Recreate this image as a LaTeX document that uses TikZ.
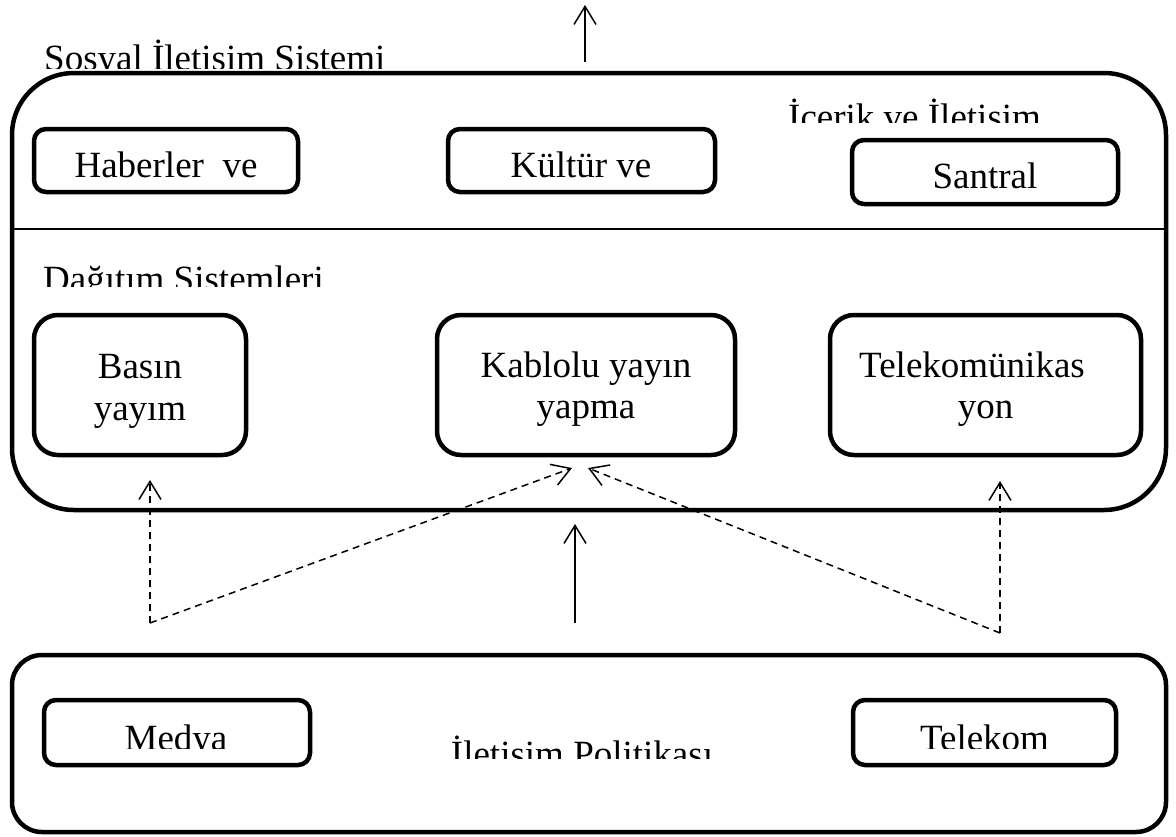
\documentclass[tikz,border=0pt]{standalone}
\usepackage{fontspec}
\setmainfont{Liberation Serif}
\usetikzlibrary{arrows.meta}
\begin{document}
\begin{tikzpicture}[x=1pt,y=-1pt,
  box/.style={draw, line width=4.5pt, rounded corners=12pt, inner sep=0pt},
  tallbox/.style={draw, line width=4.5pt, rounded corners=24pt, inner sep=0pt},
  txt/.style={font=\fontsize{37}{42}\selectfont, inner sep=0pt, anchor=base},
  arr/.style={line width=1.5pt, -{Straight Barb[length=18pt,width=22pt]}},
  darr/.style={arr, dash pattern=on 7pt off 5pt}]
\useasboundingbox (0,0) rectangle (1176,836);

% outer frames
\node[draw, line width=4.5pt, rounded corners=62pt, inner sep=0pt,
      minimum width=1154pt, minimum height=437pt] (sys) at (589,291.5) {};
\node[draw, line width=4.5pt, rounded corners=30pt, inner sep=0pt,
      minimum width=1154pt, minimum height=177pt] (pol) at (589,743.5) {};
\coordinate (sepL) at (12,229);
\coordinate (sepR) at (1166,229);
\draw[line width=1.5pt] (sepL) -- (sepR);

% clipped titles
\begin{scope}
  \clip (0,0) rectangle (700,68);
  \node[txt, anchor=base west] (sost) at (44,70) {Sosyal İletişim Sistemi};
\end{scope}
\begin{scope}
  \clip (700,90) rectangle (1120,122);
  \node[txt, anchor=base west] (icet) at (788,129) {İçerik ve İletişim};
\end{scope}
\begin{scope}
  \clip (0,240) rectangle (600,286);
  \node[txt, anchor=base west] (dagt) at (43,291) {Dağıtım Sistemleri};
\end{scope}
\begin{scope}
  \clip (400,720) rectangle (800,758);
  \node[txt] (polt) at (582,766) {İletişim Politikası};
\end{scope}

% top row boxes
\node[box, minimum width=264pt, minimum height=63pt] (hab) at (166,160.5) {};
\node[txt] (habt) at (166,177) {Haberler\ \ ve};
\node[box, minimum width=267pt, minimum height=63pt] (kul) at (581.5,160.5) {};
\node[txt] (kult) at (581,177) {Kültür ve};
\node[box, minimum width=266pt, minimum height=64pt] (san) at (985,172) {};
\node[txt] (sant) at (985,188) {Santral};

% middle row boxes
\node[tallbox, minimum width=212pt, minimum height=140pt] (bas) at (140,385) {};
\node[txt] (bas1) at (140,378) {Basın};
\node[txt] (bas2) at (140,420) {yayım};
\node[tallbox, minimum width=298pt, minimum height=140pt] (kab) at (586,385) {};
\node[txt] (kab1) at (586,377) {Kablolu yayın};
\node[txt] (kab2) at (586,418) {yapma};
\node[tallbox, minimum width=311pt, minimum height=140pt] (tel) at (985.5,385) {};
\node[txt] (tel1) at (972,377) {Telekomünikas};
\node[txt] (tel2) at (985.5,418) {yon};

% bottom boxes
\node[box, minimum width=266pt, minimum height=65pt] (med) at (177,732.5) {};
\node[box, minimum width=263pt, minimum height=65pt] (tlk) at (984.5,732.5) {};
\begin{scope}
  \clip (40,700) rectangle (1120,748.5);
  \node[txt] (medt) at (176,750) {Medya};
  \node[txt] (tlkt) at (984.5,750) {Telekom};
\end{scope}

% arrows
\coordinate (topS) at (585,62);
\coordinate (topE) at (585,5);
\draw[arr] (topS) -- (topE);
\coordinate (midS) at (575,623);
\coordinate (midE) at (575,524);
\draw[arr] (midS) -- (midE);
\coordinate (dl) at (150,623);
\coordinate (dlv) at (150,480);
\coordinate (kabL) at (572,468);
\coordinate (dr) at (1000,633);
\coordinate (kabR) at (588,468);
\coordinate (drv) at (1000,481);
\draw[darr] (dl) -- (dlv);
\draw[darr] (dl) -- (kabL);
\draw[darr] (dr) -- (kabR);
\draw[darr] (dr) -- (drv);
\end{tikzpicture}
\end{document}
